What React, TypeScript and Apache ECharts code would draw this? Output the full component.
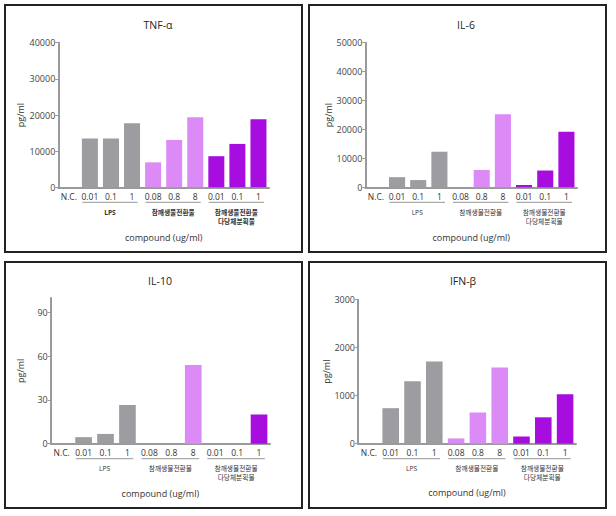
import React, { useEffect, useRef } from 'react';
import * as echarts from 'echarts';

const categories = ['N.C.', '0.01', '0.1', '1', '0.08', '0.8', '8', '0.01', '0.1', '1'];
const groupLabels = ['LPS', '참깨생물전환물', '참깨생물전환물\n다당체분획물'];
const groupSpans = [[1, 3], [4, 6], [7, 9]];
const categoryGroup = [0, 1, 1, 1, 2, 2, 2, 3, 3, 3];

const tnfValues = [0, 13500, 13500, 17700, 6900, 13100, 19400, 8600, 12000, 18800];
const il6Values = [0, 3500, 2500, 12300, 0, 6000, 25300, 800, 5800, 19200];
const il10Values = [0, 4.5, 6.7, 26.6, 0, 0, 54, 0, 0, 20];
const ifnValues = [0, 740, 1300, 1710, 110, 650, 1590, 150, 550, 1030];

const tnfTicks = [0, 10000, 20000, 30000, 40000];
const il6Ticks = [0, 10000, 20000, 30000, 40000, 50000];
const il10Ticks = [0, 30, 60, 90];
const ifnTicks = [0, 1000, 2000, 3000];

const titles = ['TNF-α', 'IL-6', 'IL-10', 'IFN-β'];
const yName = 'pg/ml';
const xName = 'compound (ug/ml)';

const groupColors = ['#9d9ca1', '#9d9ca1', '#dc8af5', '#a80ddf'];
const FONT = '"Open Sans", "Noto Sans CJK KR", sans-serif';

const panels = [
  { title: titles[0], values: tnfValues, ticks: tnfTicks, max: 40000, grid: { left: 58.3, top: 42.7, width: 210.7, height: 144.6 }, box: [5, 5, 297, 247], titlePos: [158, 25], yGap: 33, xGap: 46, bold: true },
  { title: titles[1], values: il6Values, ticks: il6Ticks, max: 50000, grid: { left: 365.3, top: 42.7, width: 211.7, height: 144.6 }, box: [309, 5, 297, 247], titlePos: [466, 25], yGap: 32, xGap: 46, bold: false },
  { title: titles[2], values: il10Values, ticks: il10Ticks, max: 100, grid: { left: 50.7, top: 298, width: 219.3, height: 145.7 }, box: [5, 262, 297, 246], titlePos: [160, 281], yGap: 25.7, xGap: 45, bold: false },
  { title: titles[3], values: ifnValues, ticks: ifnTicks, max: 3000, grid: { left: 358, top: 299.7, width: 218, height: 144 }, box: [309, 262, 297, 246], titlePos: [463, 281], yGap: 27, xGap: 44, bold: false },
];

export default function App() {
  const ref = useRef<HTMLDivElement>(null);
  useEffect(() => {
    if (!ref.current) return;
    const chart = echarts.init(ref.current, null, { renderer: 'svg' });
    const axisColor = '#9a9a9a';
    const option: any = {
      animation: false,
      backgroundColor: '#fff',
      textStyle: { fontFamily: FONT },
      grid: panels.map((p) => ({ ...p.grid, containLabel: false })),
      xAxis: panels.map((p, i) => ({
        type: 'category',
        gridIndex: i,
        data: categories,
        name: xName,
        nameLocation: 'middle',
        nameGap: p.xGap,
        nameTextStyle: { fontSize: 9, color: '#333', fontFamily: FONT },
        axisLine: { lineStyle: { color: axisColor, width: 2 } },
        axisTick: { show: false },
        axisLabel: { interval: 0, fontSize: 8.5, color: '#333', margin: 5, fontFamily: FONT },
      })),
      yAxis: panels.map((p, i) => ({
        type: 'value',
        gridIndex: i,
        min: 0,
        max: p.max,
        name: yName,
        nameLocation: 'middle',
        nameGap: p.yGap,
        nameRotate: 90,
        nameTextStyle: { fontSize: 9, color: '#333', fontFamily: FONT },
        splitLine: { show: false },
        axisLine: { show: true, lineStyle: { color: axisColor, width: 2 } },
        axisTick: { show: true, length: 3, lineStyle: { color: axisColor, width: 1 }, customValues: p.ticks },
        axisLabel: { fontSize: 9, color: '#444', margin: 3, fontFamily: FONT, customValues: p.ticks, formatter: (v: number) => String(v) },
      })),
      series: [
        ...panels.map((p, i) => ({
          type: 'bar',
          xAxisIndex: i,
          yAxisIndex: i,
          barWidth: '76%',
          data: p.values.map((v, k) => ({ value: v, itemStyle: { color: groupColors[categoryGroup[k]] } })),
        })),
        ...panels.map((p, i) => ({
          type: 'custom',
          xAxisIndex: i,
          yAxisIndex: i,
          data: groupSpans,
          silent: true,
          renderItem: (params: any, api: any) => {
            const idx = params.dataIndex;
            const s = api.coord([api.value(0), 0]);
            const e = api.coord([api.value(1), 0]);
            const band = api.size([1, 0])[0];
            const y0 = s[1];
            return {
              type: 'group',
              children: [
                {
                  type: 'line',
                  shape: { x1: s[0] - 0.31 * band - 1, y1: y0 + 15, x2: e[0] + 0.31 * band - 1, y2: y0 + 15 },
                  style: { stroke: '#aaaaaa', lineWidth: 1.3 },
                },
                {
                  type: 'text',
                  style: {
                    text: groupLabels[idx],
                    x: (s[0] + e[0]) / 2 - 1,
                    y: y0 + 20.5,
                    textAlign: 'center',
                    textVerticalAlign: 'top',
                    fontSize: 6.7,
                    lineHeight: 9,
                    fontWeight: p.bold ? 'bold' : 'normal',
                    fontFamily: FONT,
                    fill: '#333',
                  },
                },
              ],
            };
          },
        })),
      ],
      graphic: [
        ...panels.map((p) => ({
          type: 'rect',
          shape: { x: p.box[0], y: p.box[1], width: p.box[2], height: p.box[3] },
          style: { fill: 'none', stroke: '#222', lineWidth: 2 },
          silent: true,
        })),
        ...panels.map((p) => ({
          type: 'text',
          x: p.titlePos[0],
          y: p.titlePos[1],
          style: { text: p.title, textAlign: 'center', textVerticalAlign: 'middle', fontSize: 10.5, fill: '#222', fontFamily: FONT },
          silent: true,
        })),
      ],
    };
    chart.setOption(option);
    return () => chart.dispose();
  }, []);
  return <div ref={ref} style={{ position: 'fixed', left: 0, top: 0, width: 616, height: 516 }} />;
}
